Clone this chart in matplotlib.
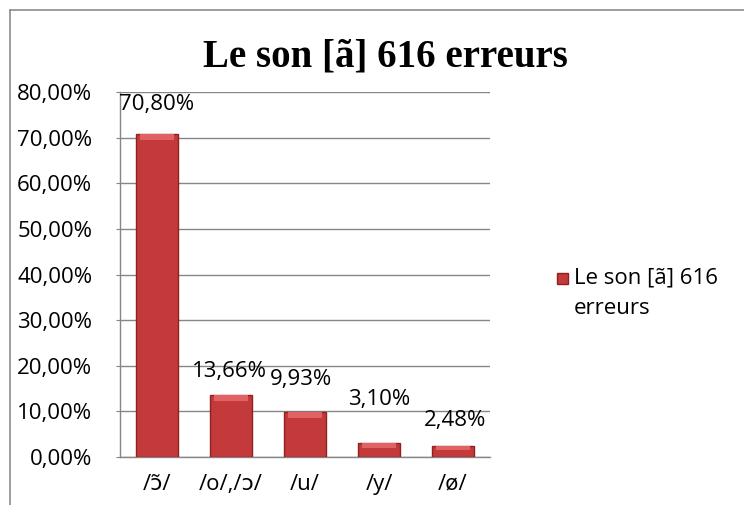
import matplotlib.pyplot as plt
from matplotlib.lines import Line2D
from matplotlib.patches import Rectangle
from matplotlib.ticker import FuncFormatter

categories = ['/ɔ̃/', '/o/,/ɔ/', '/u/', '/y/', '/ø/']
values = [70.80, 13.66, 9.93, 3.10, 2.48]
series_name = 'Le son [ã] 616 erreurs'

# label heights (data units) as placed by hand in the original chart
label_y = [77.2, 18.8, 16.9, 12.5, 7.9]
label_x_shift = [0.0, -0.02, -0.05, 0.0, 0.03]

label_font = ['Open Sans', 'DejaVu Sans']
bar_color = '#c43a3a'
bar_edge = '#8e2222'

fig = plt.figure(figsize=(7.44, 5.05), dpi=100)
ax = fig.add_axes([120/744, 48/505, 370/744, 365/505])

# outer chart frame (left and top edges visible)
fig.add_artist(Line2D([10/744, 10/744], [0, 1 - 10/505], transform=fig.transFigure,
                      color='#8c8c8c', lw=1.2))
fig.add_artist(Line2D([10/744, 1], [1 - 10/505, 1 - 10/505], transform=fig.transFigure,
                      color='#8c8c8c', lw=1.2))

x = range(len(categories))
bars = ax.bar(x, values, width=0.58, color=bar_color, edgecolor=bar_edge,
              linewidth=1.0, zorder=3)
# light bevel on top of each bar
for b in bars:
    h = min(1.3, b.get_height() * 0.35)
    ax.bar(b.get_x() + b.get_width() / 2, h, bottom=b.get_height() - h,
           width=b.get_width() * 0.8, color='#e06262', linewidth=0, zorder=4)

for xi, v, ly, dx in zip(x, values, label_y, label_x_shift):
    ax.text(xi + dx, ly, f'{v:.2f}%'.replace('.', ','), ha='center', va='center',
            fontsize=16, family=label_font, color='black', zorder=5, clip_on=False)

ax.set_xlim(-0.5, len(categories) - 0.5)
ax.set_ylim(0, 80)
ax.set_yticks(range(0, 81, 10))
ax.yaxis.set_major_formatter(FuncFormatter(lambda v, p: f'{v:.2f}%'.replace('.', ',')))
ax.set_xticks(list(x))
ax.set_xticklabels(categories)
ax.yaxis.grid(True, color='#868686', lw=1.0, zorder=0)
ax.set_axisbelow(True)

for s in ['top', 'right']:
    ax.spines[s].set_visible(False)
for s in ['left', 'bottom']:
    ax.spines[s].set_color('#868686')
    ax.spines[s].set_linewidth(1.0)

ax.tick_params(axis='y', length=3, color='#868686', labelsize=16, pad=17)
ax.tick_params(axis='x', length=0, labelsize=16, pad=12)
for lbl in ax.get_yticklabels() + ax.get_xticklabels():
    lbl.set_family(label_font)

fig.text(385/744, 1 - 57/505, 'Le son [ã] 616 erreurs', ha='center', va='center',
         fontsize=28, fontweight='bold', family='Liberation Serif')

# legend drawn by hand: marker beside the first line of a wrapped label
fig.add_artist(Rectangle((557/744, 1 - 284/505), 11/744, 11/505,
                         transform=fig.transFigure, facecolor=bar_color,
                         edgecolor=bar_edge, lw=1.0))
fig.text(574/744, 1 - 278/505, 'Le son [ã] 616', ha='left', va='center',
         fontsize=16, family=label_font)
fig.text(574/744, 1 - 308/505, 'erreurs', ha='left', va='center',
         fontsize=16, family=label_font)

fig.savefig('out.png', dpi=100)
